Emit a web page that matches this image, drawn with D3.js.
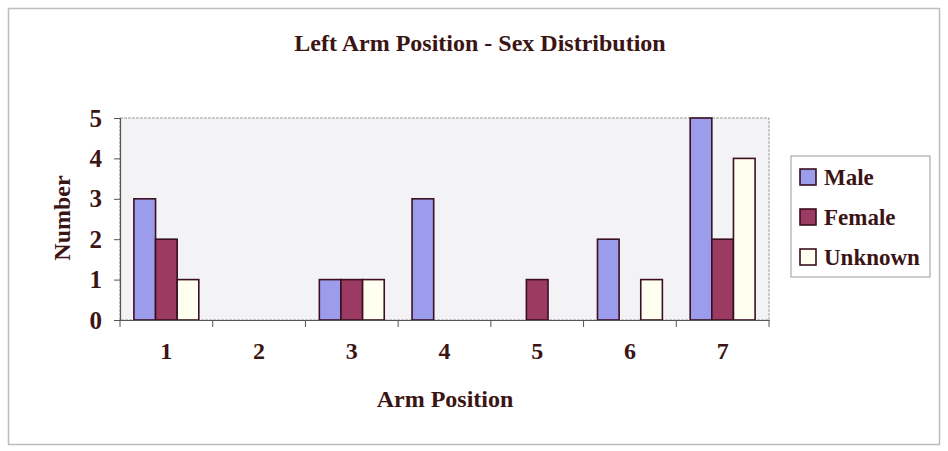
<!DOCTYPE html>
<html><head><meta charset="utf-8">
<script src="https://cdn.jsdelivr.net/npm/d3@7/dist/d3.min.js"></script>
<style>body{margin:0;background:#fff}svg{display:block}svg text{font-family:"Liberation Serif","Times New Roman",Times,"DejaVu Serif",serif;font-weight:bold}</style>
</head><body>
<svg id="c" width="948" height="451"></svg>
<script>
const categories = ["1","2","3","4","5","6","7"];
const seriesNames = ["Male","Female","Unknown"];
const male    = [3,0,1,3,0,2,5];
const female  = [2,0,1,0,1,0,2];
const unknown = [1,0,1,0,0,1,4];
const yTicks = [0,1,2,3,4,5];
const colors = ["#9c9cec","#9b3a62","#fffff0"];
const title = "Left Arm Position - Sex Distribution";
const xTitle = "Arm Position";
const yTitle = "Number";

const values = [male, female, unknown];
const svg = d3.select("#c");
const txt = "#3b1414";
const stroke = "#3a1020";
const font = '"Liberation Serif","Times New Roman",Times,serif';

svg.append("rect").attr("x",8.5).attr("y",8.5).attr("width",931).attr("height",436)
  .attr("fill","#fff").attr("stroke","#bdbdbd").attr("stroke-width",1.5);

const L=120, R=769, T=118, B=320;
const x = d3.scaleBand().domain(categories).range([L,R]).paddingInner(0.3).paddingOuter(0.15);
const xs = d3.scaleBand().domain(seriesNames).range([0,x.bandwidth()]);
const xOuter = d3.scaleBand().domain(categories).range([L,R]);
const y = d3.scaleLinear().domain([0,5]).range([B,T]);

svg.append("rect").attr("x",L).attr("y",T).attr("width",R-L).attr("height",B-T)
  .attr("fill","#f3f3f6").attr("stroke","#9a9a9a").attr("stroke-width",1).attr("stroke-dasharray","3,1");

const g = svg.append("g");
categories.forEach((c,i)=>{
  seriesNames.forEach((s,j)=>{
    const v = values[j][i];
    if(v>0){
      g.append("rect").attr("x",x(c)+xs(s)).attr("y",y(v)).attr("width",xs.bandwidth()).attr("height",y(0)-y(v))
        .attr("fill",colors[j]).attr("stroke",stroke).attr("stroke-width",1.6);
    }
  });
});

const ya = svg.append("g").attr("transform",`translate(${L},0)`)
  .call(d3.axisLeft(y).tickValues(yTicks).tickFormat(d3.format("d")).tickSize(6).tickPadding(12));
ya.select(".domain").attr("stroke","#555").attr("stroke-width",1.2);
ya.selectAll(".tick line").attr("stroke","#555");
ya.selectAll("text").style("font-family",font).attr("font-size",25).attr("fill",txt);

const xa = svg.append("g").attr("transform",`translate(0,${B})`)
  .call(d3.axisBottom(xOuter).tickSize(0).tickPadding(22));
xa.select(".domain").attr("stroke","#555").attr("stroke-width",1.2);
xa.selectAll("text").style("font-family",font).attr("font-size",24).attr("fill",txt);
const bounds = categories.map(c=>xOuter(c)).concat([R]);
xa.selectAll(".bt").data(bounds).enter().append("line")
  .attr("x1",d=>d).attr("x2",d=>d).attr("y1",0).attr("y2",7).attr("stroke","#555");

svg.append("text").attr("x",480).attr("y",51).attr("text-anchor","middle")
  .style("font-family",font).attr("font-size",24).attr("fill",txt).text(title);
svg.append("text").attr("x",445).attr("y",407).attr("text-anchor","middle")
  .style("font-family",font).attr("font-size",24).attr("fill",txt).text(xTitle);
svg.append("text").attr("transform","translate(70,218) rotate(-90)").attr("text-anchor","middle")
  .style("font-family",font).attr("font-size",24).attr("fill",txt).text(yTitle);

svg.append("rect").attr("x",791).attr("y",156).attr("width",139).attr("height",121)
  .attr("fill","#fff").attr("stroke","#9a9a9a");
seriesNames.forEach((s,j)=>{
  const cy = 177 + j*40;
  svg.append("rect").attr("x",800).attr("y",cy-8).attr("width",16).attr("height",16)
    .attr("fill",colors[j]).attr("stroke",stroke).attr("stroke-width",1.6);
  svg.append("text").attr("x",824).attr("y",cy+8).style("font-family",font)
    .attr("font-size",23).attr("fill",txt).text(s);
});
</script>
</body></html>
